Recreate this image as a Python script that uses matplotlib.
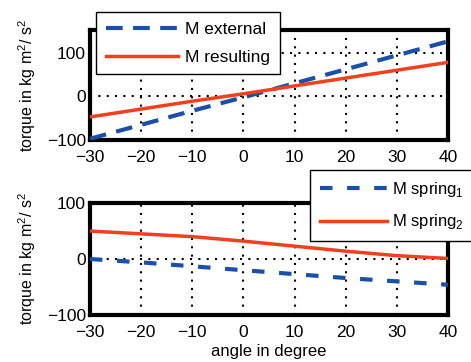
import matplotlib.pyplot as plt
import numpy as np

plt.rcParams['font.family'] = ['Liberation Sans', 'DejaVu Sans']
plt.rcParams['mathtext.fontset'] = 'custom'
plt.rcParams['mathtext.rm'] = 'Liberation Sans'

# angles (degree)
angle = [-30, -20, -10, 0, 10, 20, 30, 40]
# upper plot
m_external = [-97, -65, -33, -2, 30, 62, 94, 126]
m_resulting = [-47, -29, -11, 6, 24, 42, 60, 78]
# lower plot
m_spring1 = [0, -6, -13, -20, -27, -34, -40, -46]
m_spring2 = [50, 45, 40, 32, 23, 14, 6, 1]

xticks = [-30, -20, -10, 0, 10, 20, 30, 40]
blue = '#1a50a8'
red = '#f0401e'

fig = plt.figure(figsize=(4.71, 3.62), dpi=100)
ax1 = fig.add_axes([0.191, 0.613, 0.76, 0.304])
ax2 = fig.add_axes([0.191, 0.130, 0.76, 0.309])

def style(ax, ylim, yticks, hgrid):
    ax.set_xlim(-30, 40)
    ax.set_ylim(*ylim)
    ax.set_xticks(xticks)
    ax.set_yticks(yticks)
    ax.tick_params(labelsize=12.5, length=0)
    ax.tick_params(axis='x', pad=7)
    ax.tick_params(axis='y', pad=3)
    for s in ax.spines.values():
        s.set_linewidth(3)
    for x in xticks[1:-1]:
        ax.axvline(x, color='k', ls=(0, (1, 3)), lw=1.5, zorder=1)
    for y in hgrid:
        ax.axhline(y, color='k', ls=(0, (1, 3)), lw=1.5, zorder=1)
    ax.set_ylabel('torque in kg m$^2$/ s$^2$', fontsize=11.5, labelpad=6)

style(ax1, (-100, 152), [-100, 0, 100], [0, 100])
ax1.plot(angle, m_external, color=blue, lw=3, ls=(0, (4, 2.5)), label='M external', zorder=3)
ax1.plot(angle, m_resulting, color=red, lw=2.5, label='M resulting', zorder=3)
ax1.legend(loc='upper left', bbox_to_anchor=(96 / 471, 1 - 12 / 362), bbox_transform=fig.transFigure,
           borderaxespad=0, fontsize=12.5, handlelength=4.2, fancybox=False, edgecolor='k',
           framealpha=1, borderpad=0.55, labelspacing=0.75, handletextpad=0.4)

style(ax2, (-100, 100), [-100, 0, 100], [0])
ax2.plot(angle, m_spring1, color=blue, lw=3, ls=(0, (3, 3.5)), label='M spring$_1$', zorder=3)
ax2.plot(angle, m_spring2, color=red, lw=2.5, label='M spring$_2$', zorder=3)
ax2.set_xlabel('angle in degree', fontsize=12, labelpad=3)
leg = ax2.legend(loc='upper left', bbox_to_anchor=(310 / 471, 1 - 170 / 362), bbox_transform=fig.transFigure,
                 borderaxespad=0, fontsize=12, handlelength=4.0, fancybox=False, edgecolor='k',
                 framealpha=1, borderpad=0.6, labelspacing=0.8, handletextpad=0.3)
leg.set_zorder(10)

fig.savefig('out.png', dpi=100)
